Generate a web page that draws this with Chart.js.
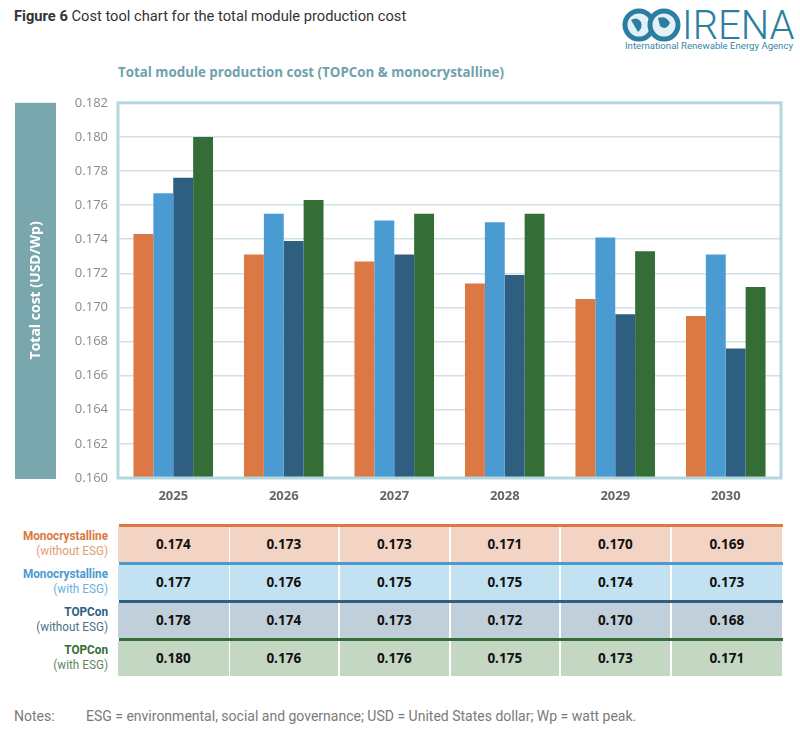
<!DOCTYPE html>
<html>
<head>
<meta charset="utf-8">
<script src="https://cdn.jsdelivr.net/npm/chart.js@4.4.1/dist/chart.umd.min.js"></script>
<style>
  body { margin: 0; background: #fff; width: 800px; height: 737px; position: relative; overflow: hidden;
         font-family: "Roboto", sans-serif; }
  #cabecalho { position: absolute; left: 14px; top: 7px; font-size: 14.7px; color: #333; }
  #cabecalho b { font-weight: bold; }
  #logo { position: absolute; left: 622px; top: 6px; }
  #logoTexto { position: absolute; left: 682px; top: 2px; font-family: "Roboto", sans-serif; font-weight: 300;
               font-size: 40px; color: #2b7ea1; }
  #logoSub { position: absolute; left: 625px; top: 40px; font-family: "Roboto", sans-serif; font-size: 9.6px; color: #3a86a6; }
  #tituloGrafico { position: absolute; left: 118px; top: 62px; font-family: "Open Sans", sans-serif; font-weight: bold;
                   font-size: 14.5px; color: #6fa2aa; white-space: nowrap;
                   transform: scaleX(0.92); transform-origin: left center; }
  #caixaGrafico { position: absolute; left: 0; top: 85px; width: 800px; height: 425px; }
  #tabela { position: absolute; left: 0; top: 524px; width: 800px; }
  .linha { position: absolute; left: 0; height: 38px; width: 800px; }
  .rotulo { position: absolute; left: 0; width: 108px; text-align: right; top: 4px; font-size: 13.5px; line-height: 14.5px;
            white-space: nowrap; transform: scaleX(0.87); transform-origin: right center; }
  .rotulo b { font-weight: bold; }
  .celula { position: absolute; top: 3px; height: 35px; line-height: 35px; text-align: center;
            font-family: "Open Sans", sans-serif; font-weight: bold; font-size: 13.5px; color: #111; }
  .faixa { position: absolute; top: 0; height: 3px; left: 119px; width: 664px; }
  #notas { position: absolute; left: 14px; top: 708px; font-size: 14px; color: #7a7a7a; }
  #notas span { position: absolute; left: 72px; white-space: nowrap; }
</style>
</head>
<body>

<div id="cabecalho"><b>Figure 6</b> Cost tool chart for the total module production cost</div>
<svg id="logo" width="60" height="38">
  <circle cx="17" cy="19" r="14" fill="#e3f0f5" stroke="#2b7ea1" stroke-width="5"/>
  <circle cx="42" cy="19" r="14" fill="#e3f0f5" stroke="#2b7ea1" stroke-width="5"/>
  <path d="M9 14 q6 -4 10 2 q2 6 -3 10 z M36 12 q8 -3 12 5 q-4 8 -10 3 z" fill="#2b7ea1"/>
</svg>
<div id="logoTexto">IRENA</div>
<div id="logoSub">International Renewable Energy Agency</div>

<div id="tituloGrafico">Total module production cost (TOPCon &amp; monocrystalline)</div>

<div id="caixaGrafico"><canvas id="graficoCustoModulo"></canvas></div>

<div id="tabela"></div>

<div id="notas">Notes:<span>ESG = environmental, social and governance; USD = United States dollar; Wp = watt peak.</span></div>

<script>
// ---- dados do gráfico
const anos = ['2025', '2026', '2027', '2028', '2029', '2030'];

const monoSemESG   = [0.1743, 0.1731, 0.1727, 0.1714, 0.1705, 0.1695];
const monoComESG   = [0.1767, 0.1755, 0.1751, 0.1750, 0.1741, 0.1731];
const topconSemESG = [0.1776, 0.1739, 0.1731, 0.1719, 0.1696, 0.1676];
const topconComESG = [0.1800, 0.1763, 0.1755, 0.1755, 0.1733, 0.1712];

// valores da tabela, como aparecem impressos
const tabelaMonoSemESG   = ['0.174', '0.173', '0.173', '0.171', '0.170', '0.169'];
const tabelaMonoComESG   = ['0.177', '0.176', '0.175', '0.175', '0.174', '0.173'];
const tabelaTopconSemESG = ['0.178', '0.174', '0.173', '0.172', '0.170', '0.168'];
const tabelaTopconComESG = ['0.180', '0.176', '0.176', '0.175', '0.173', '0.171'];

const eixoYMin = 0.160;
const eixoYMax = 0.182;
const eixoYPasso = 0.002;

// ---- cores das séries
const corLaranja = '#dc7843';
const corAzulClaro = '#4a9bd1';
const corAzulEscuro = '#2e5f80';
const corVerde = '#356d36';

// ---- moldura do gráfico e caixa do título do eixo Y
const molduraPlugin = {
    id: 'moldura',
    afterDraw(chart) {
        const { ctx, chartArea } = chart;
        ctx.save();
        // borda do chartArea
        ctx.strokeStyle = '#b3d7de';
        ctx.lineWidth = 3;
        ctx.strokeRect(chartArea.left, chartArea.top, chartArea.right - chartArea.left, chartArea.bottom - chartArea.top);
        // caixa lateral
        ctx.fillStyle = '#7aa6ad';
        ctx.fillRect(15, chartArea.top, 41, chartArea.bottom - chartArea.top + 1);
        ctx.translate(36, (chartArea.top + chartArea.bottom) / 2);
        ctx.rotate(-Math.PI / 2);
        ctx.fillStyle = '#ffffff';
        ctx.font = 'bold 14px "Open Sans", sans-serif';
        ctx.textAlign = 'center';
        ctx.textBaseline = 'middle';
        ctx.fillText('Total cost (USD/Wp)', 0, 0);
        ctx.restore();
    }
};

const ctx = document.getElementById('graficoCustoModulo').getContext('2d');
let graficoCustoModulo = new Chart(ctx, {
    type: 'bar',
    data: {
        labels: anos,
        datasets: [
            { label: 'Monocrystalline (without ESG)', data: monoSemESG, backgroundColor: corLaranja },
            { label: 'Monocrystalline (with ESG)', data: monoComESG, backgroundColor: corAzulClaro },
            { label: 'TOPCon (without ESG)', data: topconSemESG, backgroundColor: corAzulEscuro },
            { label: 'TOPCon (with ESG)', data: topconComESG, backgroundColor: corVerde }
        ]
    },
    options: {
        responsive: true,
        maintainAspectRatio: false,
        animation: false,
        layout: { padding: { left: 0, right: 19, top: 10, bottom: 0 } },
        datasets: { bar: { categoryPercentage: 0.72, barPercentage: 1.0 } },
        plugins: {
            legend: { display: false },
            tooltip: { enabled: false }
        },
        scales: {
            x: {
                grid: { display: false, drawTicks: false },
                border: { display: false },
                ticks: {
                    color: '#666',
                    padding: 10,
                    font: { family: '"Open Sans", sans-serif', weight: 'bold', size: 13 }
                },
                afterFit(scale) { scale.height = 32; }
            },
            y: {
                min: eixoYMin,
                max: eixoYMax,
                border: { display: false },
                grid: { color: '#cfe1e7', lineWidth: 1.5, drawTicks: false },
                ticks: {
                    stepSize: eixoYPasso,
                    color: '#8a8a8a',
                    padding: 10,
                    font: { family: '"Open Sans", sans-serif', size: 13 },
                    callback: (v) => v.toFixed(3)
                },
                afterFit(scale) { scale.width = 118; }
            }
        }
    },
    plugins: [molduraPlugin]
});

// ---- tabela abaixo do gráfico
const linhasTabela = [
    { titulo: 'Monocrystalline', sub: '(without ESG)', corTitulo: '#d97842', corSub: '#e39b72', faixa: corLaranja, fundo: '#f3d4c4', valores: tabelaMonoSemESG },
    { titulo: 'Monocrystalline', sub: '(with ESG)', corTitulo: '#4a9bd1', corSub: '#6db0dd', faixa: corAzulClaro, fundo: '#c2e2f2', valores: tabelaMonoComESG },
    { titulo: 'TOPCon', sub: '(without ESG)', corTitulo: '#2e5f80', corSub: '#4f6f88', faixa: corAzulEscuro, fundo: '#c0cfd9', valores: tabelaTopconSemESG },
    { titulo: 'TOPCon', sub: '(with ESG)', corTitulo: '#356d36', corSub: '#5e865e', faixa: corVerde, fundo: '#c3d7c3', valores: tabelaTopconComESG }
];

function montarTabela() {
    const area = graficoCustoModulo.chartArea;
    const larguraColuna = (area.right - area.left) / anos.length;
    const tabela = document.getElementById('tabela');

    linhasTabela.forEach((linha, i) => {
        const div = document.createElement('div');
        div.className = 'linha';
        div.style.top = (i * 38) + 'px';

        const rotulo = document.createElement('div');
        rotulo.className = 'rotulo';
        rotulo.innerHTML = `<b style="color:${linha.corTitulo}">${linha.titulo}</b><br><span style="color:${linha.corSub}">${linha.sub}</span>`;
        div.appendChild(rotulo);

        const faixa = document.createElement('div');
        faixa.className = 'faixa';
        faixa.style.background = linha.faixa;
        div.appendChild(faixa);

        linha.valores.forEach((valor, j) => {
            const celula = document.createElement('div');
            celula.className = 'celula';
            const esquerda = area.left + j * larguraColuna + (j > 0 ? 1 : 0);
            celula.style.left = esquerda + 'px';
            celula.style.width = (larguraColuna - (j > 0 ? 2 : 0) - (j < anos.length - 1 ? 0 : -2)) + 'px';
            celula.style.background = linha.fundo;
            celula.textContent = valor;
            div.appendChild(celula);
        });

        tabela.appendChild(div);
    });
}

montarTabela();
</script>
</body>
</html>
